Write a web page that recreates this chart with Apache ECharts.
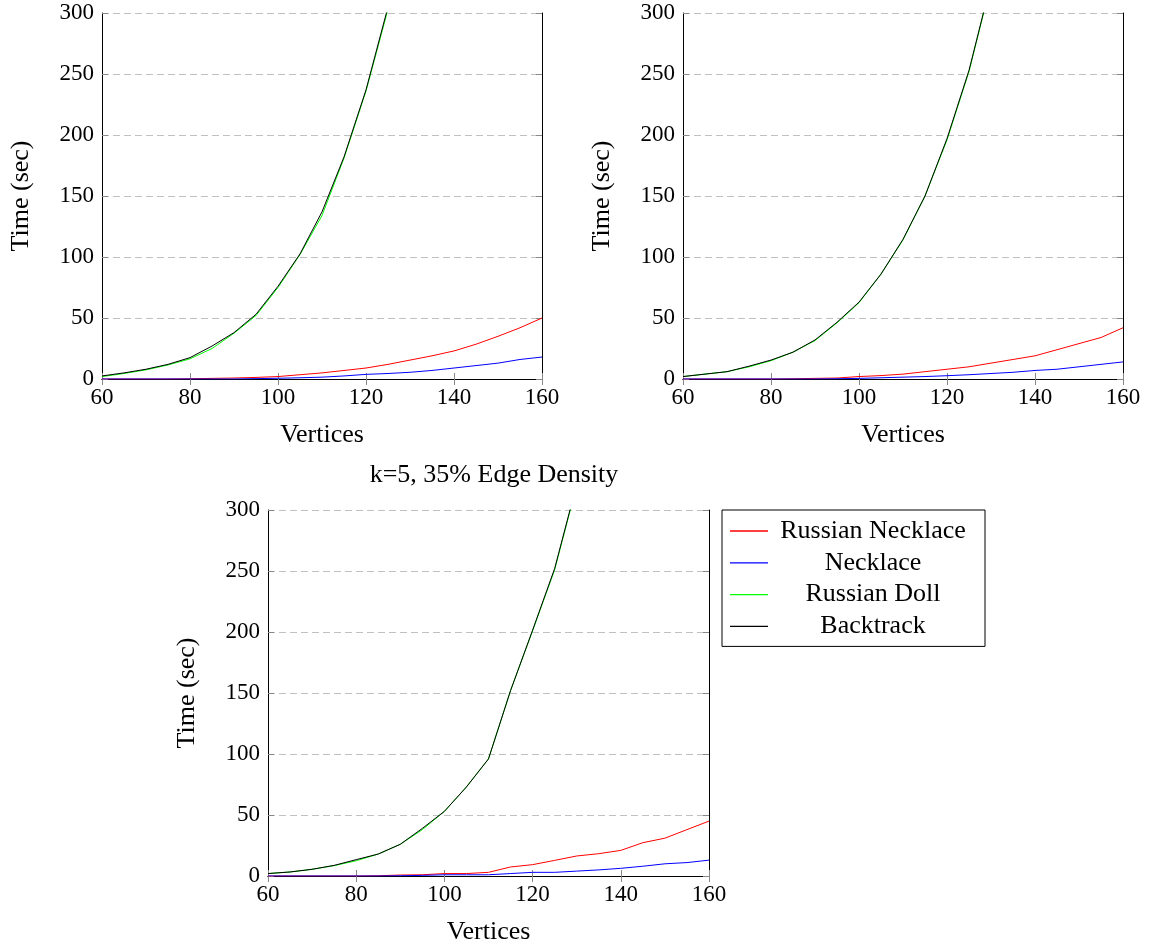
<!DOCTYPE html>
<html>
<head>
<meta charset="utf-8">
<script src="https://cdn.jsdelivr.net/npm/echarts@6/dist/echarts.min.js"></script>
<style>html,body{margin:0;padding:0;background:#fff}#c{width:1151px;height:946px}</style>
</head>
<body>
<div id="c"></div>
<script>
// ---- data ----
const vertices = [60,65,70,75,80,85,90,95,100,105,110,115,120,125,130,135,140,145,150,155,160];
const seriesNames = ['Russian Necklace','Necklace','Russian Doll','Backtrack'];
const seriesColors = ['#ff0000','#0000ff','#00ff00','#000000'];
const xTicks = [60,80,100,120,140,160];
const yTicks = [0,50,100,150,200,250,300];

// Panel 1 (top left)
const rn1 = [0,0,0,0,0.2,0.5,0.8,1.3,2,3.5,5,7,9,12,15.5,19,23,28.5,35,42,50];
const nk1 = [0,0,0,0,0,0,0,0.3,0.6,1,1.5,2.5,3.8,4.5,5.5,7,9,11,13,16,18];
const rd1 = [2,4.5,7.5,11.5,16.5,25,37.5,52,75,102,134,181,236,303,392,505,655,845,1090,1410,1820];
const bt1 = [2.5,5,8,12,17.5,27,38,53,76,102.5,137,182,237,305,395,510,660,850,1100,1420,1830];

// Panel 2 (top right)
const rn2 = [0,0,0,0,0,0.2,0.5,0.8,2,2.8,4,6,8,10,13,16,19,24,29,34,42];
const nk2 = [0,0,0,0,0,0,0,0.2,0.5,1,1.5,2,2.7,3.5,4.5,5.5,7,8,10,12,14];
const rd2 = [2,4,6,10,15,22,31.5,46,62.5,86,114,150,196,252,324,418,538,698,898,1158,1498];
const bt2 = [2,4,6,10.5,15.5,22,32,46.5,63,86,114.5,150,197,253,325,420,540,700,900,1160,1500];

// Panel 3 (bottom, k=5, 35% Edge Density)
const rn3 = [0,0,0,0,0,0.2,0.8,1,2,2,3,7.4,9.3,12.8,16.4,18.3,21,27.3,31,38,45];
const nk3 = [0,0,0,0,0,0,0.2,0.5,1,1,1,2,3,3,4,5,6.3,8,10,11,13];
const rd3 = [2,3.3,5.5,8.5,12.5,18,26,38,53,73,96,152,201,251,320,409,528,678,878,1128,1458];
const bt3 = [2,3.3,5.5,8.7,13.4,18,26,39,53,73,96,152,201.5,252,321,410,530,680,880,1130,1460];

const panelTitle = 'k=5, 35% Edge Density';
const xName = 'Vertices';
const yName = 'Time (sec)';

const panels = [[rn1,nk1,rd1,bt1],[rn2,nk2,rd2,bt2],[rn3,nk3,rd3,bt3]];

// ---- chart ----
const FONT = '"Liberation Serif", "DejaVu Serif", serif';
const grids = [
  {left:102, top:13, width:440, height:366},
  {left:683, top:13, width:440, height:366},
  {left:268, top:510, width:441, height:366}
];

const tickStyle = {show:true, inside:true, length:6, lineStyle:{color:'#888', width:1}};
const lineStyle = {show:true, lineStyle:{color:'#000', width:1}};

const xAxes = [], yAxes = [], series = [];
grids.forEach((g, i) => {
  xAxes.push({
    type:'value', gridIndex:i, min:xTicks[0], max:xTicks[xTicks.length-1], interval:20,
    position:'bottom', axisLine:lineStyle, axisTick:tickStyle,
    axisLabel:{color:'#000', fontFamily:FONT, fontSize:23, margin:7},
    splitLine:{show:false},
    name:xName, nameLocation:'middle', nameGap:43,
    nameTextStyle:{color:'#000', fontFamily:FONT, fontSize:26}
  });
  xAxes.push({
    type:'value', gridIndex:i, min:xTicks[0], max:xTicks[xTicks.length-1], interval:20,
    position:'top', axisLine:lineStyle, axisTick:tickStyle,
    axisLabel:{show:false}, splitLine:{show:false}
  });
  yAxes.push({
    type:'value', gridIndex:i, min:yTicks[0], max:yTicks[yTicks.length-1], interval:50,
    position:'left', axisLine:lineStyle, axisTick:tickStyle,
    axisLabel:{color:'#000', fontFamily:FONT, fontSize:23, margin:8},
    splitLine:{show:true, lineStyle:{color:'#c0c0c0', width:1, type:[7,4]}},
    name:yName, nameLocation:'middle', nameGap:68, nameRotate:90,
    nameTextStyle:{color:'#000', fontFamily:FONT, fontSize:26}
  });
  yAxes.push({
    type:'value', gridIndex:i, min:yTicks[0], max:yTicks[yTicks.length-1], interval:50,
    position:'right', axisLine:lineStyle, axisTick:tickStyle,
    axisLabel:{show:false}, splitLine:{show:false}
  });
  panels[i].forEach((vals, k) => {
    series.push({
      type:'line', name:seriesNames[k], xAxisIndex:2*i, yAxisIndex:2*i,
      data: vertices.map((x, j) => [x, vals[j]]),
      symbol:'none', showSymbol:false, clip:true, animation:false,
      lineStyle:{color:seriesColors[k], width:1},
      itemStyle:{color:seriesColors[k]},
      z: 3 + k
    });
  });
});

const chart = echarts.init(document.getElementById('c'));
chart.setOption({
  animation:false,
  backgroundColor:'#fff',
  title:{
    text:panelTitle, left:489, top:457, textAlign:'center',
    textStyle:{color:'#000', fontFamily:FONT, fontSize:26, fontWeight:'normal'}
  },
  legend:{
    orient:'vertical', left:722, top:510,
    data:seriesNames.map(n => ({name:n, icon:'rect'})),
    backgroundColor:'#fff', borderColor:'#000', borderWidth:1,
    padding:[8,12,7,8], itemGap:5.8, itemWidth:38, itemHeight:1.3,
    formatter:'{a|{name}}',
    textStyle:{color:'#000', fontFamily:FONT, fontSize:26,
      rich:{a:{width:200, align:'center', fontFamily:FONT, fontSize:26, lineHeight:26, color:'#000'}}}
  },
  grid:grids,
  xAxis:xAxes,
  yAxis:yAxes,
  series:series
});
</script>
</body>
</html>
